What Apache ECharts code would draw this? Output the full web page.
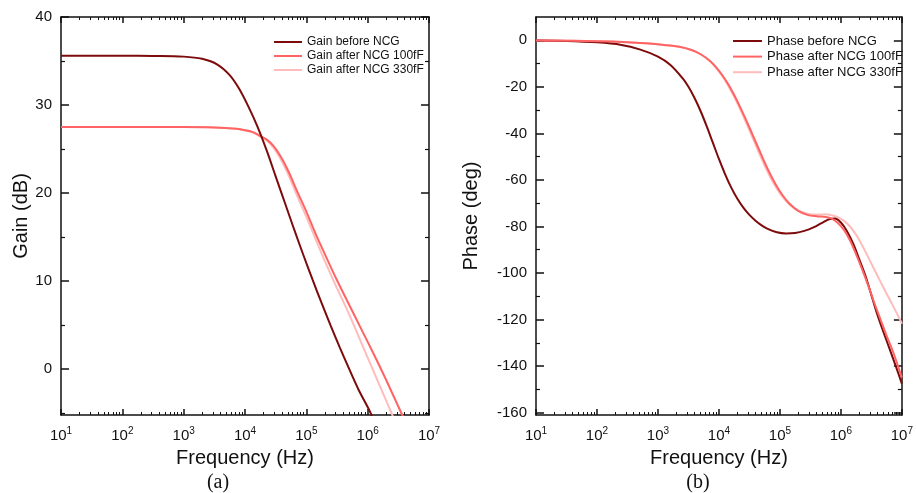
<!DOCTYPE html>
<html><head><meta charset="utf-8">
<script src="https://cdn.jsdelivr.net/npm/echarts@6/dist/echarts.min.js"></script>
<style>html,body{margin:0;padding:0;background:#fff}#c{width:916px;height:493px}</style>
</head><body><div id="c"></div>
<script>
// ---------- tick values ----------
const decadeTicks = [1e1, 1e2, 1e3, 1e4, 1e5, 1e6, 1e7];
const minorFreqTicks = [
  20, 30, 40, 50, 60, 70, 80, 90,
  200, 300, 400, 500, 600, 700, 800, 900,
  2e3, 3e3, 4e3, 5e3, 6e3, 7e3, 8e3, 9e3,
  2e4, 3e4, 4e4, 5e4, 6e4, 7e4, 8e4, 9e4,
  2e5, 3e5, 4e5, 5e5, 6e5, 7e5, 8e5, 9e5,
  2e6, 3e6, 4e6, 5e6, 6e6, 7e6, 8e6, 9e6
];
const gainTicks = [0, 10, 20, 30, 40];
const gainMinorTicks = [-5, 5, 15, 25, 35];
const phaseTicks = [-160, -140, -120, -100, -80, -60, -40, -20, 0];
const phaseMinorTicks = [-150, -130, -110, -90, -70, -50, -30, -10];

// ---------- legend names ----------
const gainNames = ['Gain before NCG', 'Gain after NCG 100fF', 'Gain after NCG 330fF'];
const phaseNames = ['Phase before NCG', 'Phase after NCG 100fF', 'Phase after NCG 330fF'];

// ---------- gain data (Hz, dB) ----------
const gainBeforeFreq = [10, 100, 316.2, 1000, 1995, 3548, 5623, 7943, 11220, 15850, 22390, 31620, 44670, 63100, 89130, 125900, 177800, 251200, 354800, 501200, 707900, 1000000, 1175000];
const gainBefore     = [35.6, 35.6, 35.58, 35.5, 35.25, 34.6, 33.4, 31.9, 29.9, 27.6, 24.9, 21.9, 18.9, 15.9, 13.0, 10.2, 7.5, 4.9, 2.4, 0.0, -2.3, -4.3, -5.3];

const gain100Freq = [10, 100, 1000, 3162, 7244, 10000, 13800, 17780, 22390, 28840, 37150, 50120, 70790, 100000, 141300, 199500, 316200, 501200, 794300, 1259000, 1995000, 3548000, 3802000];
const gain100     = [27.5, 27.5, 27.5, 27.45, 27.3, 27.15, 26.9, 26.5, 26.1, 25.4, 24.3, 22.6, 20.2, 17.9, 15.4, 13.1, 10.1, 7.3, 4.5, 1.7, -1.2, -5.0, -5.4];

const gain330Freq = [10, 100, 1000, 3162, 7244, 10000, 13800, 17780, 22390, 28840, 37150, 50120, 70790, 100000, 141300, 199500, 316200, 501200, 794300, 1259000, 1995000, 2455000, 2630000];
const gain330     = [27.5, 27.5, 27.5, 27.45, 27.3, 27.1, 26.85, 26.4, 26.0, 25.2, 24.0, 22.2, 19.7, 17.3, 14.8, 12.3, 9.2, 6.2, 2.95, -0.3, -3.55, -5.0, -5.5];

// ---------- phase data (Hz, deg) ----------
const phaseBeforeFreq = [10, 31.62, 100, 251.2, 501.2, 1000, 1585, 2512, 3162, 3981, 5012, 6310, 7943, 10000, 12590, 15850, 19950, 25120, 31620, 39810, 50120, 63100, 89130, 125900, 177800, 251200, 354800, 501200, 660700, 794300, 1000000, 1259000, 1585000, 1995000, 2512000, 3162000, 3981000, 5012000, 6310000, 7943000, 10000000];
const phaseBefore     = [-0.1, -0.3, -0.9, -2.0, -3.9, -7.0, -10.5, -16.2, -20, -24.8, -30.5, -37, -44, -51, -57.5, -63.2, -68, -71.9, -75, -77.5, -79.5, -81, -82.5, -83, -82.8, -81.9, -80.4, -78.3, -76.8, -76.6, -78.3, -82, -87.3, -94, -101, -109.5, -118, -125.5, -132.7, -140, -147.5];

const phaseAfterFreq = [10, 100, 316.2, 631, 1259, 2239, 3548, 5012, 7079, 8913, 11220, 14130, 17780, 22390, 28180, 35480, 44670, 56230, 70790, 89130, 112200, 141300, 199500, 281800, 398100, 562300, 707900, 891300, 1122000, 1413000, 1778000, 2239000, 2818000, 3548000, 4467000, 5623000, 7079000, 8913000, 10000000];
const phase100       = [-0.1, -0.4, -0.8, -1.3, -2.0, -2.8, -4.2, -6.0, -8.8, -11.5, -14.8, -18.8, -23.5, -28.8, -34.5, -40.5, -46.5, -52.5, -58, -62.8, -66.8, -70, -73.3, -75, -75.6, -75.9, -76.6, -78.5, -81.5, -86, -92, -98.5, -105.5, -113, -120, -127, -133.5, -141, -145];
const phase330       = [-0.1, -0.4, -0.8, -1.3, -2.0, -2.8, -4.2, -6.0, -8.9, -11.7, -15.2, -19.4, -24.3, -29.8, -35.7, -41.8, -47.9, -53.8, -59.2, -63.8, -67.5, -70.4, -73.2, -74.5, -74.9, -74.8, -75.2, -76.0, -77.6, -80.0, -83.6, -88.2, -93.3, -98.6, -103.8, -108.9, -113.9, -119, -121.8];

// ---------- styling ----------
const FONT = '"Liberation Sans", Arial, sans-serif';
const AX = '#111';
const C_DARK = '#7d0b0b';
const C_MID = '#ff6464';
const C_LIGHT = '#ffbcbc';

function zip(a, b) { return a.map((v, i) => [v, b[i]]); }
function fmtPow(v) { const e = Math.round(Math.log10(v)); return '{b|10}{s|' + e + '}'; }

function xAxesFor(gi) {
  const base = { type: 'log', logBase: 10, min: 1e1, max: 1e7, gridIndex: gi, splitLine: { show: false } };
  const line = { show: true, onZero: false, lineStyle: { color: AX, width: 1.5 } };
  const noLine = { show: false, onZero: false };
  return [
    Object.assign({}, base, {
      position: 'bottom', axisLine: line,
      axisTick: { show: true, inside: true, length: 6, customValues: decadeTicks, lineStyle: { color: AX, width: 1.5 } },
      axisLabel: {
        show: true, customValues: decadeTicks, margin: 11, formatter: fmtPow,
        rich: {
          b: { fontSize: 15, fontFamily: FONT, color: '#111', lineHeight: 20 },
          s: { fontSize: 10, fontFamily: FONT, color: '#111', verticalAlign: 'top', lineHeight: 12 }
        }
      },
      name: 'Frequency (Hz)', nameLocation: 'middle', nameGap: 31,
      nameTextStyle: { fontSize: 20, color: '#111', fontFamily: FONT }
    }),
    Object.assign({}, base, {
      position: 'bottom', axisLine: noLine,
      axisTick: { show: true, inside: true, length: 3, customValues: minorFreqTicks, lineStyle: { color: AX, width: 1 } },
      axisLabel: { show: false }
    }),
    Object.assign({}, base, {
      position: 'top', axisLine: line,
      axisTick: { show: true, inside: true, length: 6, customValues: decadeTicks, lineStyle: { color: AX, width: 1.5 } },
      axisLabel: { show: false }
    }),
    Object.assign({}, base, {
      position: 'top', axisLine: noLine,
      axisTick: { show: true, inside: true, length: 3, customValues: minorFreqTicks, lineStyle: { color: AX, width: 1 } },
      axisLabel: { show: false }
    })
  ];
}

function yAxesFor(gi, min, max, major, minor, name, nameGap) {
  const base = { type: 'value', min: min, max: max, gridIndex: gi, splitLine: { show: false } };
  const line = { show: true, onZero: false, lineStyle: { color: AX, width: 1.5 } };
  const noLine = { show: false, onZero: false };
  return [
    Object.assign({}, base, {
      position: 'left', axisLine: line,
      axisTick: { show: true, inside: true, length: 8, customValues: major, lineStyle: { color: AX, width: 1.5 } },
      axisLabel: { show: true, customValues: major, margin: 9, fontSize: 15, fontFamily: FONT, color: '#111' },
      name: name, nameLocation: 'middle', nameGap: nameGap,
      nameTextStyle: { fontSize: 20, color: '#111', fontFamily: FONT }
    }),
    Object.assign({}, base, {
      position: 'left', axisLine: noLine,
      axisTick: { show: true, inside: true, length: 4, customValues: minor, lineStyle: { color: AX, width: 1.2 } },
      axisLabel: { show: false }
    }),
    Object.assign({}, base, {
      position: 'right', axisLine: line,
      axisTick: { show: true, inside: true, length: 8, customValues: major, lineStyle: { color: AX, width: 1.5 } },
      axisLabel: { show: false }
    }),
    Object.assign({}, base, {
      position: 'right', axisLine: noLine,
      axisTick: { show: true, inside: true, length: 4, customValues: minor, lineStyle: { color: AX, width: 1.2 } },
      axisLabel: { show: false }
    })
  ];
}

function lineSeries(name, xi, yi, freq, vals, color, z) {
  return {
    name: name, type: 'line', xAxisIndex: xi, yAxisIndex: yi,
    data: zip(freq, vals), smooth: 0.35, symbol: 'none', z: z,
    lineStyle: { color: color, width: 2 }, itemStyle: { color: color },
    emphasis: { disabled: true }
  };
}

const chart = echarts.init(document.getElementById('c'), null, { renderer: 'canvas' });
chart.setOption({
  animation: false,
  backgroundColor: '#fff',
  grid: [
    { left: 61, top: 17, width: 368, height: 398 },
    { left: 536, top: 17, width: 368, height: 398 }
  ],
  xAxis: xAxesFor(0).concat(xAxesFor(1)),
  yAxis: yAxesFor(0, -5.2, 40, gainTicks, gainMinorTicks, 'Gain (dB)', 29)
    .concat(yAxesFor(1, -161, 10, phaseTicks, phaseMinorTicks, 'Phase (deg)', 55)),
  legend: [
    {
      data: gainNames, orient: 'vertical', left: 274, top: 36, padding: 0,
      icon: 'rect', itemWidth: 28, itemHeight: 2, itemGap: 2,
      textStyle: { fontSize: 12, fontFamily: FONT, color: '#111' }
    },
    {
      data: phaseNames, orient: 'vertical', left: 733, top: 34.5, padding: 0,
      icon: 'rect', itemWidth: 29, itemHeight: 2, itemGap: 2.6,
      textStyle: { fontSize: 13, fontFamily: FONT, color: '#111' }
    }
  ],
  series: [
    lineSeries(gainNames[2], 0, 0, gain330Freq, gain330, C_LIGHT, 2),
    lineSeries(gainNames[1], 0, 0, gain100Freq, gain100, C_MID, 3),
    lineSeries(gainNames[0], 0, 0, gainBeforeFreq, gainBefore, C_DARK, 4),
    lineSeries(phaseNames[2], 4, 4, phaseAfterFreq, phase330, C_LIGHT, 2),
    lineSeries(phaseNames[0], 4, 4, phaseBeforeFreq, phaseBefore, C_DARK, 3),
    lineSeries(phaseNames[1], 4, 4, phaseAfterFreq, phase100, C_MID, 4)
  ],
  graphic: [
    { type: 'text', x: 218, y: 483, style: { text: '(a)', font: '20px "Liberation Serif", "DejaVu Serif", serif', fill: '#111', textAlign: 'center', textVerticalAlign: 'middle' } },
    { type: 'text', x: 698, y: 483, style: { text: '(b)', font: '20px "Liberation Serif", "DejaVu Serif", serif', fill: '#111', textAlign: 'center', textVerticalAlign: 'middle' } }
  ]
});
</script>
</body></html>
